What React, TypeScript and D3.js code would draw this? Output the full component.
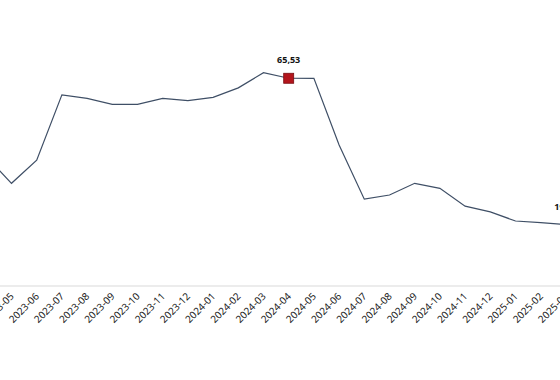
import React from "react";
import * as d3 from "d3";

const months = [
  "2023-04", "2023-05", "2023-06", "2023-07", "2023-08", "2023-09", "2023-10", "2023-11", "2023-12",
  "2024-01", "2024-02", "2024-03", "2024-04", "2024-05", "2024-06", "2024-07", "2024-08", "2024-09",
  "2024-10", "2024-11", "2024-12", "2025-01", "2025-02", "2025-03",
];
const values = [
  40.8, 32.4, 39.7, 60.3, 59.2, 57.3, 57.3, 59.2, 58.5,
  59.5, 62.5, 67.3, 65.53, 65.5, 44.5, 27.4, 28.7, 32.4,
  30.8, 25.2, 23.4, 20.5, 20.0, 19.34,
];
const highlighted = ["2024-04"];
const labelled = ["2024-04", "2025-03"];

const W = 560;
const H = 380;

export default function App() {
  const x = d3.scalePoint<string>().domain(months).range([-13.7, -13.7 + 23 * 25.2]);
  const y = d3.scaleLinear().domain([0, 80]).range([286, 286 - 80 * 3.17]);
  const line = d3
    .line<number>()
    .x((_, i) => x(months[i]) as number)
    .y((d) => y(d));
  const fmt = (v: number) => v.toFixed(2).replace(".", ",");
  const axisY = y(0);

  return (
    <svg
      width={W}
      height={H}
      style={{ position: "absolute", left: 0, top: 0, background: "#fff" }}
      fontFamily="'Noto Sans', 'Open Sans', sans-serif"
    >
      <line x1={0} x2={W} y1={axisY} y2={axisY} stroke="#d9d9d9" strokeWidth={1} />
      {months.map((m) => (
        <text
          key={m}
          transform={`translate(${(x(m) as number) + 3},${axisY + 11}) rotate(-45)`}
          textAnchor="end"
          fontSize={10}
          fill="#222"
        >
          {m}
        </text>
      ))}
      <path d={line(values) || ""} fill="none" stroke="#3f4f66" strokeWidth={1.2} />
      {months.map((m, i) =>
        highlighted.includes(m) ? (
          <rect
            key={"r" + m}
            x={(x(m) as number) - 5}
            y={y(values[i]) - 5}
            width={10}
            height={10}
            fill="#b3151c"
            stroke="#7a0c10"
            strokeWidth={0.8}
          />
        ) : null
      )}
      {months.map((m, i) =>
        labelled.includes(m) ? (
          <text
            key={"l" + m}
            x={x(m) as number}
            y={y(values[i]) - 15}
            textAnchor="middle"
            fontSize={9}
            fontWeight="bold"
            fill="#111"
          >
            {fmt(values[i])}
          </text>
        ) : null
      )}
    </svg>
  );
}
